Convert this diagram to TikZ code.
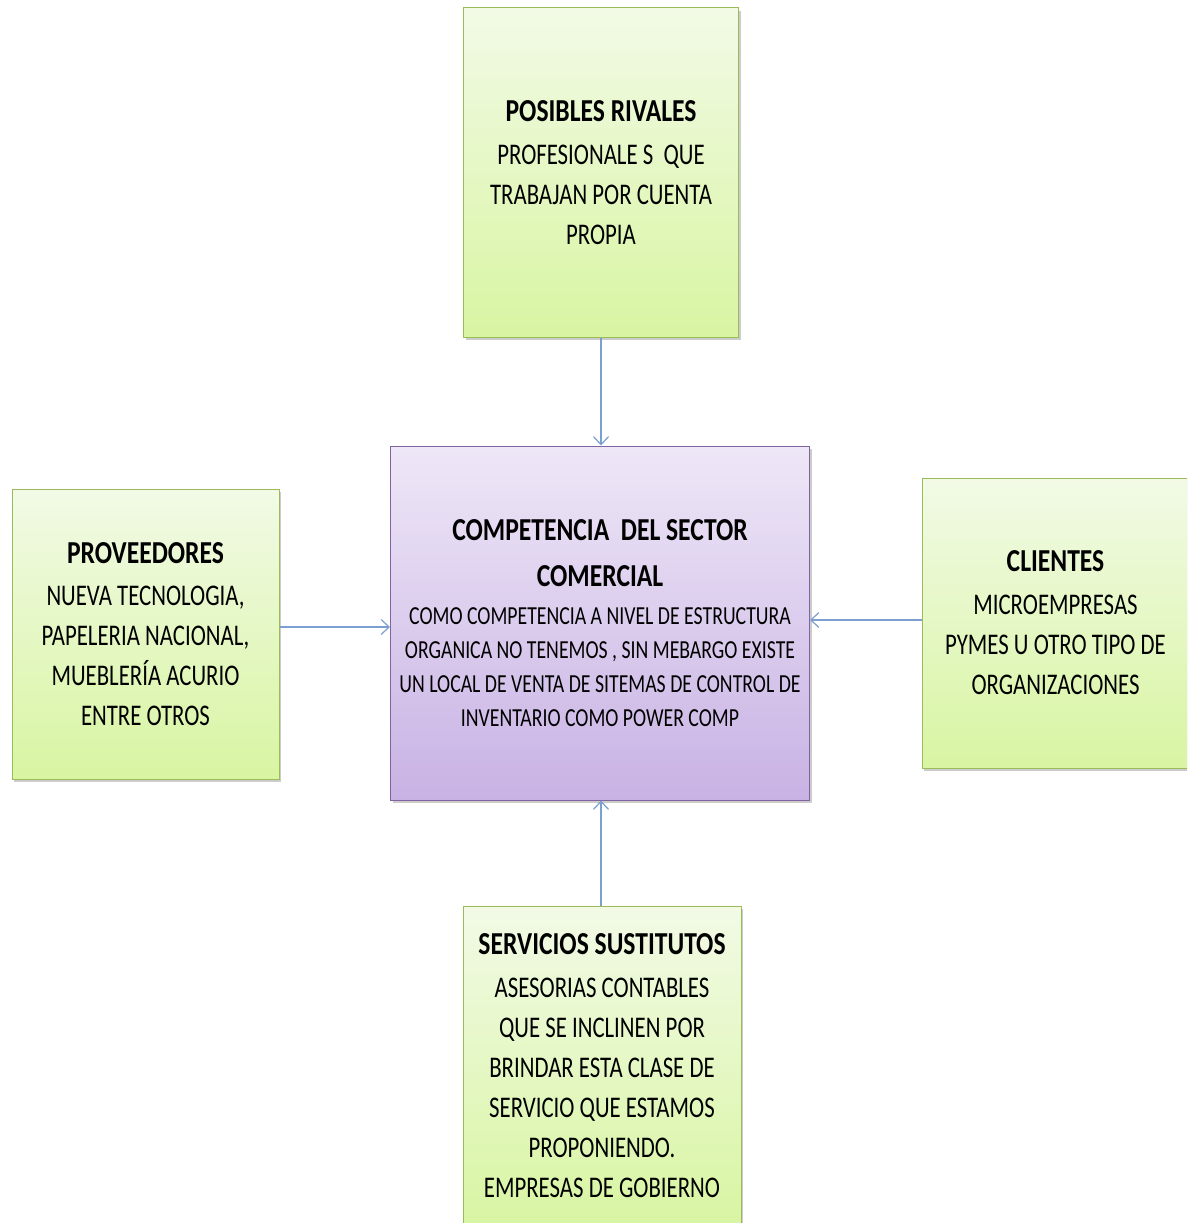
\documentclass[tikz,border=0pt]{standalone}
\usepackage{fontspec}
\setmainfont{Carlito}[FakeStretch=0.76, BoldFeatures={FakeStretch=0.8}]
\usetikzlibrary{arrows.meta,shadows}
\definecolor{gtop}{HTML}{F2FAE6}
\definecolor{gbot}{HTML}{D8F5A2}
\definecolor{gline}{HTML}{9BBB59}
\definecolor{ptop}{HTML}{EEE7F7}
\definecolor{pbot}{HTML}{C8B2E4}
\definecolor{pline}{HTML}{8064A2}
\definecolor{arr}{HTML}{7BA0D0}
\newcommand{\bodyf}{\fontsize{30}{40}\selectfont}
\newcommand{\ttlf}{\fontsize{32}{40}\selectfont\bfseries}
\tikzset{
  box/.style={rectangle, draw=gline, line width=1pt, top color=gtop, bottom color=gbot,
    align=center, inner sep=0pt, font=\bodyf,
    drop shadow={opacity=0.4, shadow xshift=2pt, shadow yshift=-3pt}},
  pbox/.style={box, draw=pline, top color=ptop, bottom color=pbot, font=\fontsize{26}{34}\selectfont},
  conn/.style={draw=arr, line width=1.2pt, -{Straight Barb[length=8pt,width=15pt,line width=1.2pt]}},
}
\begin{document}
\begin{tikzpicture}[x=1pt,y=-1pt]
\useasboundingbox (0,0) rectangle (1187,1223);
\clip (0,0) rectangle (1187,1223);
\fill[white] (0,0) rectangle (1187,1223);
\node[box, minimum width=275pt, minimum height=329pt] (top) at (601,172.5)
  {{\ttlf POSIBLES RIVALES}\\[3pt] PROFESIONALE S\ \ QUE\\ TRABAJAN POR CUENTA\\ PROPIA};
\node[pbox, minimum width=419pt, minimum height=354pt] (ctr) at (600,623)
  {{\ttlf COMPETENCIA\ \ DEL SECTOR}\\[12pt] {\ttlf COMERCIAL}\\[4pt]
   COMO COMPETENCIA A NIVEL DE ESTRUCTURA\\ ORGANICA NO TENEMOS , SIN MEBARGO EXISTE\\
   UN LOCAL DE VENTA DE SITEMAS DE CONTROL DE\\ INVENTARIO COMO POWER COMP};
\node[box, minimum width=267pt, minimum height=290pt] (lft) at (145.5,634)
  {{\ttlf PROVEEDORES}\\[2pt] NUEVA TECNOLOGIA,\\ PAPELERIA NACIONAL,\\ MUEBLERÍA ACURIO\\ ENTRE OTROS};
\node[box, minimum width=267pt, minimum height=290pt] (rgt) at (1055.5,623)
  {{\ttlf CLIENTES}\\[3pt] MICROEMPRESAS\\ PYMES U OTRO TIPO DE\\ ORGANIZACIONES};
\node[box, minimum width=278pt, minimum height=320pt] (bot) at (602,1066)
  {{\ttlf SERVICIOS SUSTITUTOS}\\[3pt] ASESORIAS CONTABLES\\ QUE SE INCLINEN POR\\ BRINDAR ESTA CLASE DE\\ SERVICIO QUE ESTAMOS\\ PROPONIENDO.\\ EMPRESAS DE GOBIERNO};
\draw[conn] (top.south) -- (top.south |- ctr.north);
\draw[conn] ([yshift=7pt]lft.east) -- ([yshift=7pt]lft.east -| ctr.west);
\draw[conn] ([yshift=3pt]rgt.west) -- ([yshift=3pt]ctr.east);
\draw[conn] ([xshift=-1pt]bot.north) -- ([xshift=-1pt]bot.north |- ctr.south);
\end{tikzpicture}
\end{document}
